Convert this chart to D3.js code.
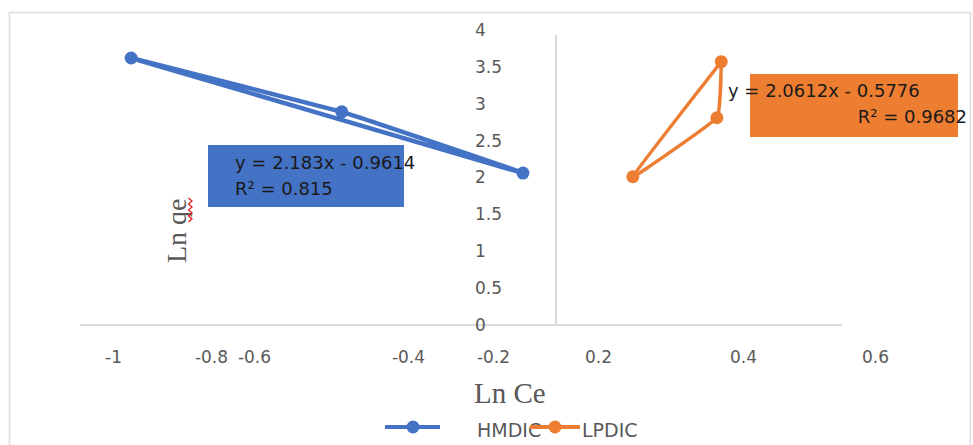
<!DOCTYPE html>
<html>
<head>
<meta charset="utf-8">
<script src="https://cdn.jsdelivr.net/npm/d3@7"></script>
<style>
    body { margin: 0; background: #fff; }
    svg { display: block; }
</style>
</head>
<body>
<div id="chart"></div>
<script>
// data (Ln Ce / Ln qe)
const seriesNames = ["HMDIC", "LPDIC"];
const hmdicX = [-0.963, -0.486, -0.105, -0.963];
const hmdicY = [3.62, 2.89, 2.06, 3.62];
const lpdicX = [0.370, 0.364, 0.248, 0.370];
const lpdicY = [3.57, 2.81, 2.01, 3.57];
const xTicks = [-1, -0.8, -0.6, -0.4, -0.2, 0.2, 0.4, 0.6];
const yTicks = [0, 0.5, 1, 1.5, 2, 2.5, 3, 3.5, 4];
const equations = [
    ["y = 2.183x - 0.9614", "R² = 0.815"],
    ["y = 2.0612x - 0.5776", "R² = 0.9682"]
];
const colors = ["#4472C4", "#ED7D31"];

let width = 973, height = 445;
let svg = d3.select("#chart").append("svg")
    .attr("width", width)
    .attr("height", height);

// the x labels of the original are unevenly spread, so the scale is piecewise
let xStops = [-1, -0.8, -0.6, -0.4, -0.2, 0, 0.2, 0.4, 0.6];
let xPix = [113, 211, 254, 408, 493, 556, 598, 743, 875];
let x = d3.scaleLinear().domain(xStops).range(xPix);
let y = d3.scaleLinear().domain([0, 4]).range([325, 30]);

// outer frame
svg.append("rect")
    .attr("x", 9.5).attr("y", 12.5)
    .attr("width", 961).attr("height", 460)
    .attr("fill", "none")
    .attr("stroke", "#e3e3e3")
    .attr("stroke-width", 2);

// horizontal axis line
svg.append("line")
    .attr("x1", 80).attr("x2", 842)
    .attr("y1", y(0)).attr("y2", y(0))
    .attr("stroke", "#d9d9d9").attr("stroke-width", 2);

// vertical axis line at x = 0
svg.append("line")
    .attr("x1", x(0)).attr("x2", x(0))
    .attr("y1", y(0)).attr("y2", y(3.93))
    .attr("stroke", "#d9d9d9").attr("stroke-width", 2);

let xAxis = d3.axisBottom(x).tickValues(xTicks).tickSize(0).tickPadding(26)
    .tickFormat(d => String(d));
let gx = svg.append("g")
    .attr("transform", "translate(0," + y(0) + ")")
    .call(xAxis);
gx.select(".domain").remove();
gx.selectAll("text")
    .attr("fill", "#595959")
    .style("font-family", "DejaVu Sans")
    .style("font-size", "17px");

let yAxis = d3.axisLeft(y).tickValues(yTicks).tickSize(0)
    .tickFormat(d => String(d));
let gy = svg.append("g")
    .attr("transform", "translate(" + x(0) + ",0)")
    .call(yAxis);
gy.select(".domain").remove();
gy.selectAll("text")
    .attr("x", -81)
    .attr("text-anchor", "start")
    .attr("fill", "#595959")
    .style("font-family", "DejaVu Sans")
    .style("font-size", "17px");

// axis titles
svg.append("text")
    .attr("x", 474).attr("y", 403)
    .attr("fill", "#595959")
    .style("font-family", "Liberation Serif")
    .style("font-size", "29px")
    .text("Ln Ce");

svg.append("text")
    .attr("transform", "translate(186,263) rotate(-90)")
    .attr("fill", "#595959")
    .style("font-family", "Liberation Serif")
    .style("font-size", "28px")
    .text("Ln qe");

// red spell-check squiggle under "qe"
let sq = [];
for (let i = 0; i <= 8; i++) sq.push([i % 2 ? 192 : 188.5, 222 - i * 3]);
svg.append("path")
    .attr("d", d3.line()(sq))
    .attr("fill", "none")
    .attr("stroke", "#e02020")
    .attr("stroke-width", 1.3);

// equation boxes
let boxes = [
    { x: 208, y: 145, w: 196, h: 62, tx: 235, anchor: ["start", "start"], tx2: 235, b: [169, 195] },
    { x: 750, y: 74, w: 208, h: 63, tx: 728, anchor: ["start", "end"], tx2: 967, b: [97, 123] }
];
boxes.forEach((bx, i) => {
    svg.append("rect")
        .attr("x", bx.x).attr("y", bx.y)
        .attr("width", bx.w).attr("height", bx.h)
        .attr("fill", colors[i]);
});

// series
let series = [
    { name: seriesNames[0], pts: hmdicX.map((v, i) => ({ x: v, y: hmdicY[i] })), w: 4.5 },
    { name: seriesNames[1], pts: lpdicX.map((v, i) => ({ x: v, y: lpdicY[i] })), w: 3.5 }
];
let line = d3.line().curve(d3.curveCardinal.tension(0.75))
    .x(d => x(d.x))
    .y(d => y(d.y));

series.forEach((s, i) => {
    svg.append("path")
        .attr("d", line(s.pts))
        .attr("fill", "none")
        .attr("stroke", colors[i])
        .attr("stroke-width", s.w)
        .attr("stroke-linejoin", "round");
    svg.selectAll(".dot" + i)
        .data(s.pts.slice(0, 3))
        .enter()
        .append("circle")
        .attr("class", "dot" + i)
        .attr("cx", d => x(d.x))
        .attr("cy", d => y(d.y))
        .attr("r", 6.5)
        .attr("fill", colors[i]);
});

// equation text on top
boxes.forEach((bx, i) => {
    equations[i].forEach((t, j) => {
        svg.append("text")
            .attr("x", j == 0 ? bx.tx : bx.tx2)
            .attr("y", bx.b[j])
            .attr("text-anchor", bx.anchor[j])
            .attr("fill", "#1a1a1a")
            .style("font-family", "DejaVu Sans")
            .style("font-size", "18px")
            .text(t);
    });
});

// legend
let legend = [
    { x1: 385, x2: 440, cx: 413, tx: 477 },
    { x1: 530, x2: 580, cx: 555, tx: 582 }
];
legend.forEach((l, i) => {
    svg.append("line")
        .attr("x1", l.x1).attr("x2", l.x2)
        .attr("y1", 427).attr("y2", 427)
        .attr("stroke", colors[i]).attr("stroke-width", 4);
    svg.append("circle")
        .attr("cx", l.cx).attr("cy", 427).attr("r", 6.5)
        .attr("fill", colors[i]);
    svg.append("text")
        .attr("x", l.tx).attr("y", 437)
        .attr("fill", "#595959")
        .style("font-family", "DejaVu Sans")
        .style("font-size", "19px")
        .text(seriesNames[i]);
});
</script>
</body>
</html>
